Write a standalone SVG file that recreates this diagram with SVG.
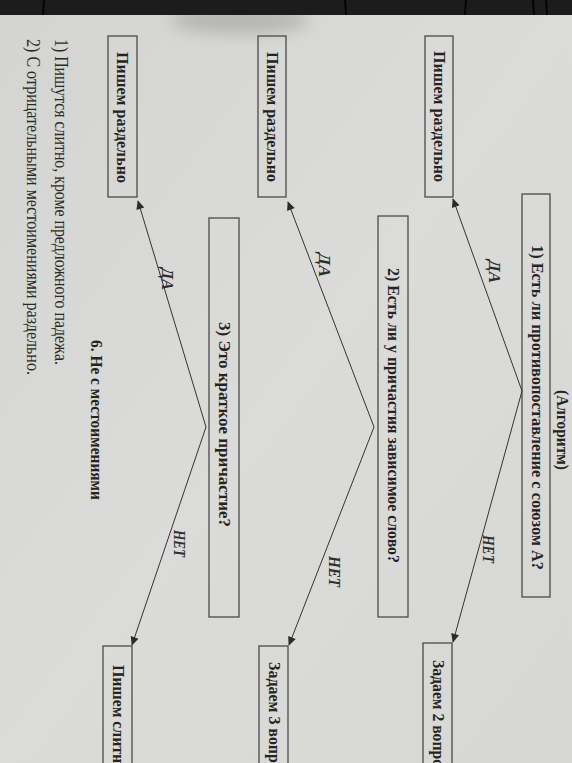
<svg xmlns="http://www.w3.org/2000/svg" width="572" height="763" viewBox="0 0 572 763">
  <defs>
    <marker id="ah" viewBox="0 0 10 10" refX="9" refY="5" markerWidth="10" markerHeight="9" markerUnits="userSpaceOnUse" orient="auto">
      <path d="M0,0.5 L10,5 L0,9.5 Z" fill="#2b2b2b"/>
    </marker>
    <linearGradient id="paper" x1="0" y1="0" x2="1" y2="1">
      <stop offset="0" stop-color="#d4d4d2"/>
      <stop offset="0.5" stop-color="#dbdbd9"/>
      <stop offset="1" stop-color="#d7d7d5"/>
    </linearGradient>
    <filter id="blur" x="-50%" y="-50%" width="200%" height="200%">
      <feGaussianBlur stdDeviation="8"/>
    </filter>
    <style>
      .box { fill: none; stroke: #4a4a4a; stroke-width: 1.3; }
      .bt { font-family: "Liberation Serif", "Times New Roman", serif; font-weight: bold; font-size: 17.5px; fill: #232323; }
      .lbl { font-family: "Liberation Serif", "Times New Roman", serif; font-weight: bold; font-style: italic; font-size: 16px; fill: #2e2e2e; }
      .note { font-family: "Liberation Serif", "Times New Roman", serif; font-size: 18px; fill: #2a2a2a; }
      .conn { fill: none; stroke: #333333; stroke-width: 1; marker-end: url(#ah); }
    </style>
  </defs>

  <!-- background: photographed page -->
  <rect x="0" y="0" width="572" height="763" fill="url(#paper)"/>
  <ellipse cx="240" cy="20" rx="70" ry="14" fill="#9a9a9a" opacity="0.55" filter="url(#blur)"/>
  <rect x="0" y="0" width="572" height="15" fill="#1c1c1c"/>
  <g stroke="#050505" stroke-width="2">
    <line x1="44" y1="0" x2="43" y2="15"/>
    <line x1="345" y1="0" x2="346" y2="15"/>
    <line x1="466" y1="0" x2="465" y2="15"/>
    <line x1="533" y1="0" x2="534" y2="15"/>
    <line x1="546" y1="0" x2="547" y2="15"/>
  </g>

  <!-- title -->
  <g id="title">
    <text class="bt" transform="translate(557,390) rotate(90)" textLength="80" lengthAdjust="spacingAndGlyphs">(Алгоритм)</text>
  </g>

  <!-- nodes -->
  <g id="q1">
    <rect class="box" x="522" y="194" width="28" height="403"/>
    <text class="bt" transform="translate(532,245) rotate(90)" textLength="325" lengthAdjust="spacingAndGlyphs">1)  Есть ли противопоставление с союзом А?</text>
  </g>
  <g id="a1">
    <rect class="box" x="425" y="36" width="28" height="161"/>
    <text class="bt" transform="translate(434,51) rotate(90)" textLength="131" lengthAdjust="spacingAndGlyphs">Пишем раздельно</text>
  </g>
  <g id="ask2">
    <rect class="box" x="423" y="643" width="29" height="140"/>
    <text class="bt" transform="translate(432.5,660) rotate(90)" textLength="114" lengthAdjust="spacingAndGlyphs">Задаем 2 вопрос</text>
  </g>

  <g id="q2">
    <rect class="box" x="378" y="216" width="30" height="401"/>
    <text class="bt" transform="translate(388,268) rotate(90)" textLength="295" lengthAdjust="spacingAndGlyphs">2) Есть ли у причастия зависимое слово?</text>
  </g>
  <g id="a2">
    <rect class="box" x="258" y="36" width="28" height="161"/>
    <text class="bt" transform="translate(267,52) rotate(90)" textLength="130" lengthAdjust="spacingAndGlyphs">Пишем раздельно</text>
  </g>
  <g id="ask3">
    <rect class="box" x="259" y="646" width="29" height="140"/>
    <text class="bt" transform="translate(268.5,662) rotate(90)" textLength="116" lengthAdjust="spacingAndGlyphs">Задаем 3 вопрос</text>
  </g>

  <g id="q3">
    <rect class="box" x="209" y="218" width="30" height="399"/>
    <text class="bt" transform="translate(218.5,322) rotate(90)" textLength="205" lengthAdjust="spacingAndGlyphs">3) Это краткое причастие?</text>
  </g>
  <g id="a3">
    <rect class="box" x="108" y="36" width="29" height="161"/>
    <text class="bt" transform="translate(117,52) rotate(90)" textLength="131" lengthAdjust="spacingAndGlyphs">Пишем раздельно</text>
  </g>
  <g id="together">
    <rect class="box" x="103" y="646" width="29" height="140"/>
    <text class="bt" transform="translate(112.5,665) rotate(90)" textLength="106" lengthAdjust="spacingAndGlyphs">Пишем слитно</text>
  </g>

  <!-- section heading and notes -->
  <g id="section6">
    <text class="bt" transform="translate(91,340) rotate(90)" textLength="160" lengthAdjust="spacingAndGlyphs">6. Не с местоимениями</text>
  </g>
  <g id="notes">
    <text class="note" transform="translate(55,39) rotate(90)" textLength="326" lengthAdjust="spacingAndGlyphs">1) Пишутся слитно, кроме предложного падежа.</text>
    <text class="note" transform="translate(27,39) rotate(90)" textLength="336" lengthAdjust="spacingAndGlyphs">2) С отрицательными местоимениями раздельно.</text>
  </g>

  <!-- connectors -->
  <g id="connectors">
    <path class="conn" d="M522,391 L453,199"/>
    <path class="conn" d="M522,391 L453,642"/>
    <path class="conn" d="M374,427 L288,202"/>
    <path class="conn" d="M374,427 L289,645"/>
    <path class="conn" d="M206,427 L138,201"/>
    <path class="conn" d="M206,427 L132,645"/>
    <text class="lbl" transform="translate(489,260) rotate(90)" textLength="23" lengthAdjust="spacingAndGlyphs">ДА</text>
    <text class="lbl" transform="translate(483,535) rotate(90)" textLength="28" lengthAdjust="spacingAndGlyphs">НЕТ</text>
    <text class="lbl" transform="translate(319,253) rotate(90)" textLength="24" lengthAdjust="spacingAndGlyphs">ДА</text>
    <text class="lbl" transform="translate(329,556) rotate(90)" textLength="31" lengthAdjust="spacingAndGlyphs">НЕТ</text>
    <text class="lbl" transform="translate(162,268) rotate(90)" textLength="22" lengthAdjust="spacingAndGlyphs">ДА</text>
    <text class="lbl" transform="translate(174,530) rotate(90)" textLength="27" lengthAdjust="spacingAndGlyphs">НЕТ</text>
  </g>
</svg>
